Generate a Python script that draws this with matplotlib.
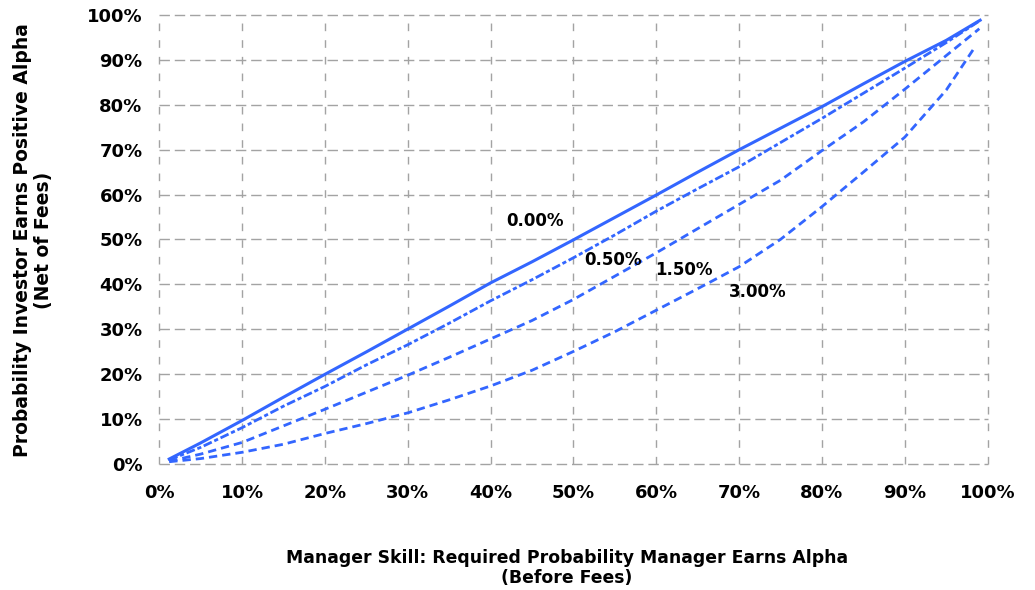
import matplotlib

matplotlib.use("Agg")
import matplotlib.pyplot as plt
from matplotlib.ticker import PercentFormatter, MultipleLocator

# manager skill (x, %) and investor probability (y, %)
fee_labels = ["0.00%", "0.50%", "1.50%", "3.00%"]
skill = [1.2, 5, 10, 15, 20, 25, 30, 35, 40, 45, 50, 55, 60, 65, 70, 75, 80, 85, 90, 95]
skill_end = [99.1, 98.9, 99.0, 98.5]
y_fee_000 = [1.0, 4.6, 9.6, 14.8, 19.9, 24.9, 30.0, 35.1, 40.3, 45.0, 49.9, 54.9,
             59.9, 65.0, 70.0, 74.8, 79.6, 84.7, 89.7, 94.4, 98.9]
y_fee_050 = [0.8, 3.6, 8.0, 12.8, 17.2, 22.0, 26.5, 31.3, 36.3, 41.0, 45.9, 51.0,
             56.3, 61.3, 66.2, 71.6, 77.0, 82.6, 88.2, 93.9, 98.6]
y_fee_150 = [0.5, 2.1, 4.7, 8.4, 12.1, 15.9, 19.7, 23.7, 27.8, 31.9, 36.6, 41.8,
             47.0, 52.4, 57.8, 63.2, 69.8, 76.2, 83.5, 91.0, 97.0]
y_fee_300 = [0.4, 1.1, 2.5, 4.3, 6.7, 8.9, 11.3, 14.2, 17.3, 20.8, 25.0, 29.4,
             34.2, 39.0, 43.9, 50.0, 57.3, 65.0, 72.8, 83.3, 93.0]

# label positions (data coords)
label_x = [45.4, 54.8, 63.3, 72.3]
label_y = [54.1, 45.4, 43.2, 38.2]

blue = "#3366ff"
font = "DejaVu Sans"

fig = plt.figure(figsize=(10.35, 5.9), dpi=100)
ax = fig.add_axes([0.1539, 0.2144, 0.8003, 0.7597])

series = [y_fee_000, y_fee_050, y_fee_150, y_fee_300]
styles = [None, (3.2, 1.0, 1.5, 1.0), (3.0, 1.8), (3.0, 1.8)]
for ys, xe, ds in zip(series, skill_end, styles):
    xs = skill + [xe]
    if ds is None:
        ax.plot(xs, ys, color=blue, lw=2.2, solid_joinstyle="round")
    else:
        ax.plot(xs, ys, color=blue, lw=2.0, dashes=ds)

for lab, lx, ly in zip(fee_labels, label_x, label_y):
    ax.text(lx, ly, lab, ha="center", va="center", fontsize=12,
            fontweight="bold", family=font)

ax.set_xlim(0, 100)
ax.set_ylim(0, 100)
ax.xaxis.set_major_locator(MultipleLocator(10))
ax.yaxis.set_major_locator(MultipleLocator(10))
ax.xaxis.set_major_formatter(PercentFormatter(decimals=0))
ax.yaxis.set_major_formatter(PercentFormatter(decimals=0))
ax.tick_params(length=0, labelsize=13)
ax.tick_params(axis="x", pad=15)
ax.tick_params(axis="y", pad=12)
for lbl in ax.get_xticklabels() + ax.get_yticklabels():
    lbl.set_fontweight("bold")
    lbl.set_family(font)

for s in ax.spines.values():
    s.set_visible(False)
ax.grid(True, color="#a3a3a3", lw=1.0)
for gl in ax.get_xgridlines():
    gl.set_dashes((5.5, 6.5))
    gl.set_clip_on(False)
for gl in ax.get_ygridlines():
    gl.set_dashes((7.5, 3.5))
    gl.set_clip_on(False)
ax.set_axisbelow(True)

fig.text(0.548, 0.038, "Manager Skill: Required Probability Manager Earns Alpha\n(Before Fees)",
         ha="center", va="center", fontsize=12.4, fontweight="bold", family=font,
         linespacing=1.15)
fig.text(0.032, 0.593, "Probability Investor Earns Positive Alpha\n(Net of Fees)",
         ha="center", va="center", rotation=90, fontsize=13.5, fontweight="bold",
         family=font, linespacing=1.15)

fig.savefig("out.png", dpi=100)
plt.close(fig)
